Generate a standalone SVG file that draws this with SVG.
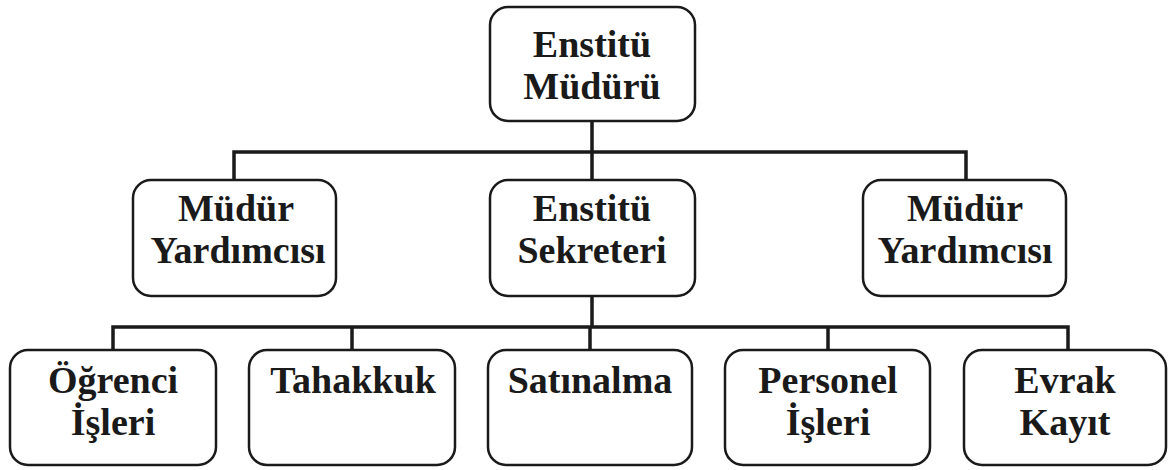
<svg xmlns="http://www.w3.org/2000/svg" width="1171" height="470" viewBox="0 0 1171 470">
<style>
.box{fill:#fff;stroke:#1a1a1a;stroke-width:2.5}
.ln{fill:none;stroke:#1a1a1a;stroke-width:3.5}
text{font-family:"Liberation Serif","Times New Roman",serif;font-weight:bold;font-size:38px;fill:#1a1a1a;text-anchor:middle}
</style>
<rect width="1171" height="470" fill="#fff"/>
<g id="connectors">
<path class="ln" d="M592 121V180M234 180V152H966V180"/>
<path class="ln" d="M592 296V327M113 350V327H1068V350M352 327V350M590 327V350M828 327V350"/>
</g>
<g id="n-mudur"><rect class="box" x="490" y="7" width="205" height="114" rx="18"/><text x="592" y="57">Enstitü</text><text x="592" y="99">Müdürü</text></g>
<g id="n-yard1"><rect class="box" x="133" y="180" width="203" height="116" rx="18"/><text x="236" y="221">Müdür</text><text x="238" y="263">Yardımcısı</text></g>
<g id="n-sekreter"><rect class="box" x="490" y="180" width="205" height="116" rx="18"/><text x="592" y="221">Enstitü</text><text x="592" y="263">Sekreteri</text></g>
<g id="n-yard2"><rect class="box" x="863" y="180" width="203" height="116" rx="18"/><text x="965" y="221">Müdür</text><text x="965" y="263">Yardımcısı</text></g>
<g id="n-ogrenci"><rect class="box" x="10" y="350" width="206" height="115" rx="18"/><text x="113" y="393">Öğrenci</text><text x="113" y="435">İşleri</text></g>
<g id="n-tahakkuk"><rect class="box" x="249" y="350" width="206" height="115" rx="18"/><text x="353" y="393">Tahakkuk</text></g>
<g id="n-satinalma"><rect class="box" x="488" y="350" width="204" height="115" rx="18"/><text x="590" y="393">Satınalma</text></g>
<g id="n-personel"><rect class="box" x="725" y="350" width="205" height="115" rx="18"/><text x="828" y="393">Personel</text><text x="828" y="435">İşleri</text></g>
<g id="n-evrak"><rect class="box" x="964" y="350" width="202" height="115" rx="18"/><text x="1065" y="393">Evrak</text><text x="1065" y="435">Kayıt</text></g>
</svg>
